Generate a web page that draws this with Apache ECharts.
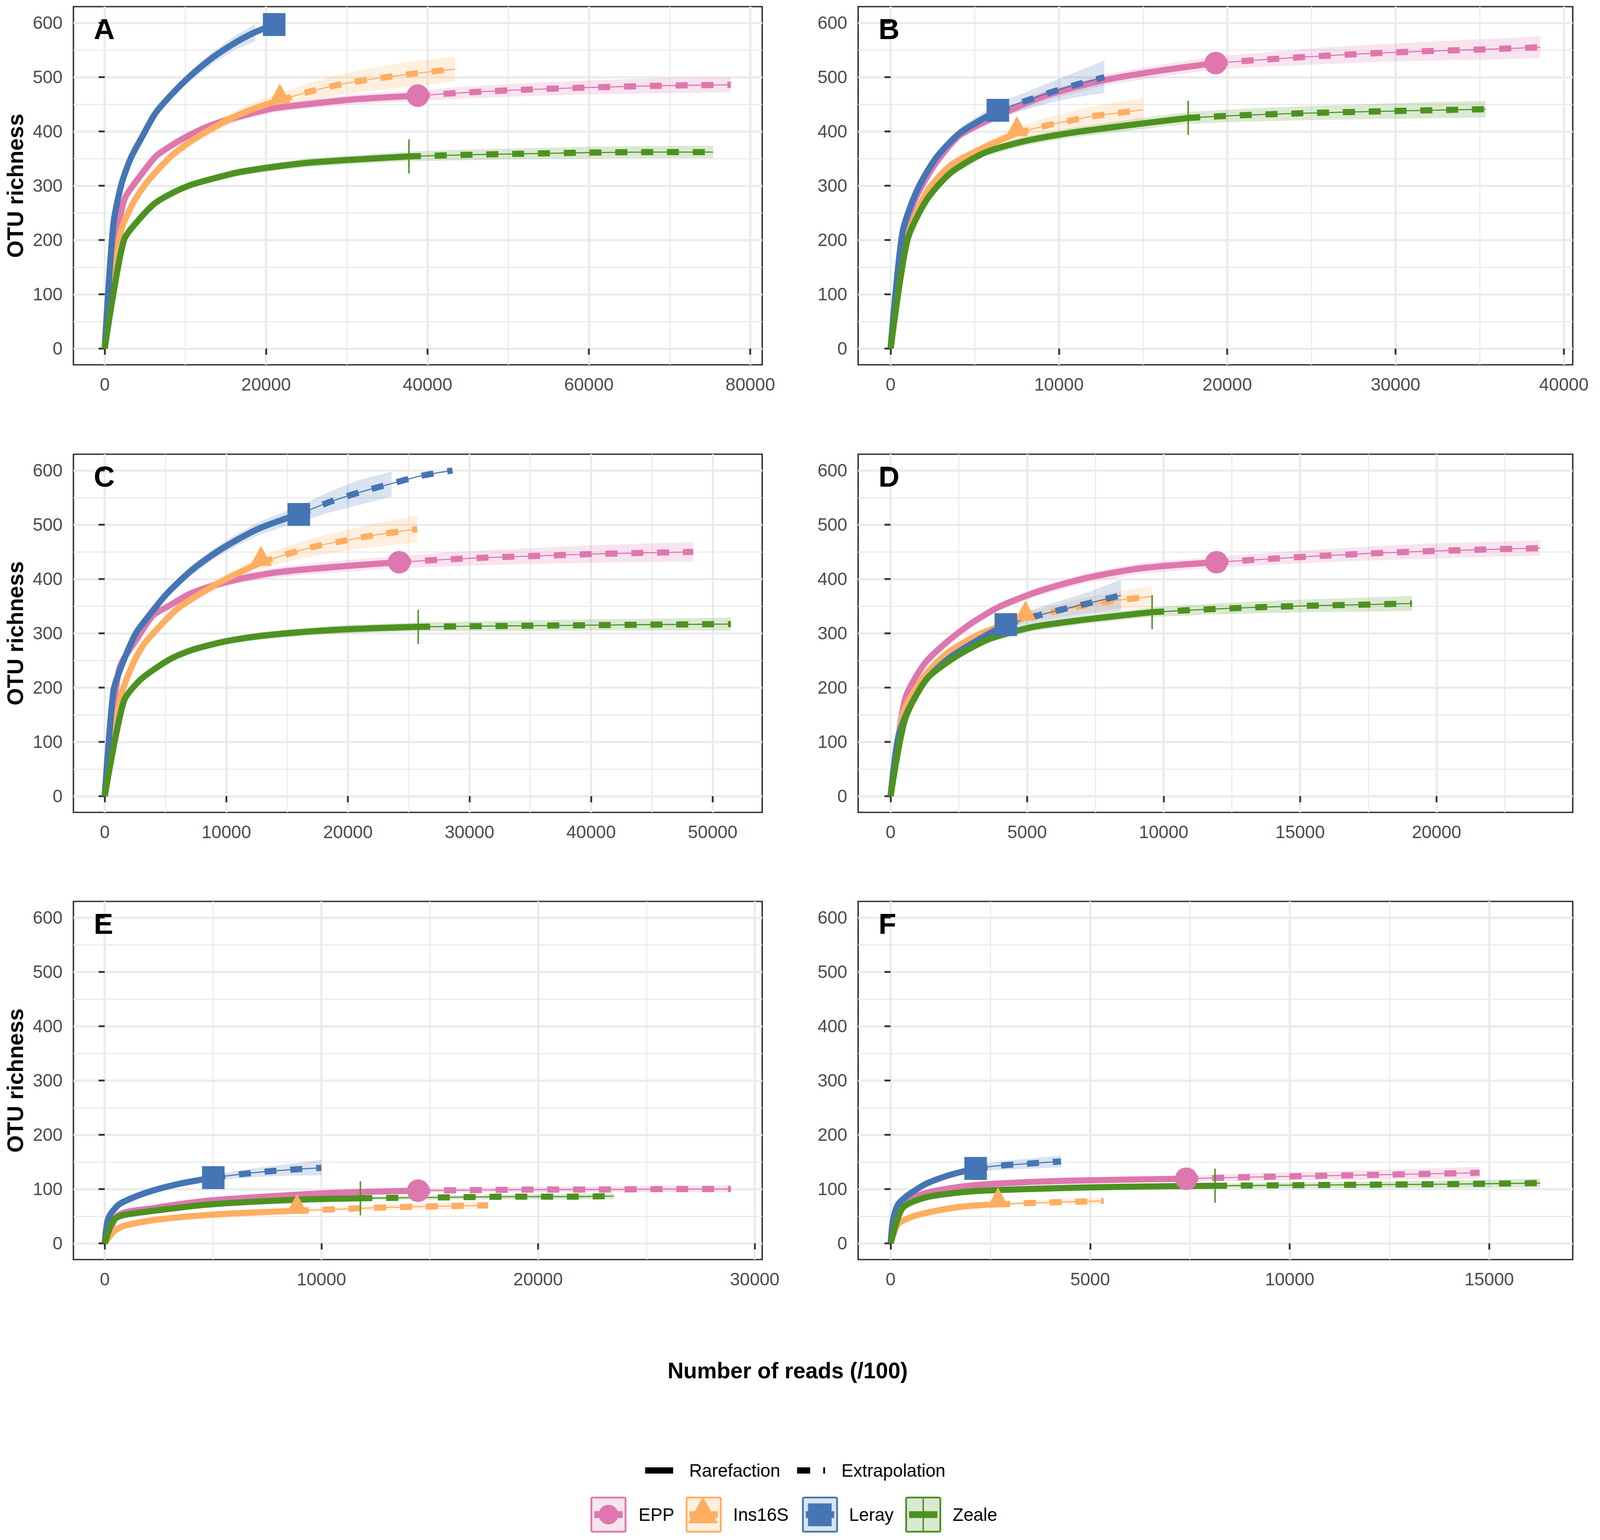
<!DOCTYPE html>
<html lang="en">
<head>
<meta charset="utf-8" />
<title>OTU richness rarefaction / extrapolation</title>
<script src="https://cdn.jsdelivr.net/npm/echarts@6.0.0/dist/echarts.min.js"></script>
<style>
  html, body { margin: 0; padding: 0; background: #ffffff; overflow: hidden; }
  #main { width: 100vw; height: 100vh; }
</style>
</head>
<body>
<div id="main"></div>
<script>
// methods and their colours
var methods = ["EPP", "Ins16S", "Leray", "Zeale"];
var colors = ["#DE77AE", "#FDAE61", "#4575B4", "#4D9221"];
var fills = ["rgba(222,119,174,0.2)", "rgba(253,174,97,0.2)", "rgba(69,117,180,0.2)", "rgba(77,146,33,0.2)"];

// tick labels
var yTicks = [0, 100, 200, 300, 400, 500, 600];
var yMinor = [50, 150, 250, 350, 450, 550];
var xTicks_A = [0, 20000, 40000, 60000, 80000];
var xMinor_A = [10000, 30000, 50000, 70000];
var xTicks_B = [0, 10000, 20000, 30000, 40000];
var xMinor_B = [5000, 15000, 25000, 35000];
var xTicks_C = [0, 10000, 20000, 30000, 40000, 50000];
var xMinor_C = [5000, 15000, 25000, 35000, 45000];
var xTicks_D = [0, 5000, 10000, 15000, 20000, 25000];
var xMinor_D = [2500, 7500, 12500, 17500, 22500];
var xTicks_E = [0, 10000, 20000, 30000];
var xMinor_E = [5000, 15000, 25000];
var xTicks_F = [0, 5000, 10000, 15000];
var xMinor_F = [2500, 7500, 12500];

// observed sample size (reads/100) per method: EPP, Ins16S, Leray, Zeale
var obs_A = [38800, 21700, 21000, 37700];
var obs_B = [19320, 7500, 6370, 17680];
var obs_C = [24220, 12850, 15960, 25780];
var obs_D = [11940, 4940, 4220, 9580];
var obs_E = [14470, 8870, 5010, 11800];
var obs_F = [7410, 2690, 2130, 8130];

// rows: [reads/100, richness, lower CI, upper CI]
var A_EPP = [[0,0,0,0],[1640,215,212,218],[2500,277,273,281],[4500,320,315,325],[6400,355,349,361],[8560,377,371,383],[10860,396,389,403],[13460,413,406,420],[16340,426,418,434],[20660,442,434,450],[25000,450,442,458],[30750,459,450,468],[38800,466,456,476],[45000,472,461,483],[52000,477,465,489],[60000,481,468,494],[68000,484,470,498],[77600,486,472,500]];
var A_Ins16S = [[0,0,0,0],[1930,212,209,215],[3370,264,259,269],[4810,298,292,304],[6250,324,317,331],[8270,355,347,363],[10580,381,372,390],[13460,407,397,417],[16340,429,418,440],[19220,446,434,458],[21700,457,444,470],[25000,472,456,488],[29000,486,467,505],[33000,496,475,517],[38000,506,483,529],[43400,515,492,538]];
var A_Leray = [[0,0,0,0],[1070,229,226,232],[2075,303,299,307],[3230,351,346,356],[4520,387,381,393],[6250,433,426,440],[8270,468,460,476],[10580,502,493,511],[13460,537,526,548],[16340,565,552,578],[18650,583,566,598],[21000,597,null,null]];
var A_Zeale = [[0,0,0,0],[2360,199,196,202],[4380,240,236,244],[6250,268,263,273],[8560,288,283,293],[10580,301,295,307],[12880,311,305,317],[16340,324,317,331],[20090,333,326,340],[25000,342,334,350],[30750,348,340,356],[37700,354,345,363],[45000,357,347,367],[52000,359,349,369],[60000,361,350,372],[68000,362,351,373],[75400,362,351,374]];

var B_EPP = [[0,0,0,0],[700,204,200,208],[1560,282,277,287],[2690,342,336,348],[4110,393,386,400],[6370,429,421,437],[9200,466,457,475],[12600,494,484,504],[16000,512,501,523],[19320,526,514,538],[22000,532,519,545],[25000,538,523,553],[28000,543,527,559],[31000,547,530,564],[35000,551,532,570],[38600,555,535,575]];
var B_Ins16S = [[0,0,0,0],[990,204,200,208],[2120,287,281,293],[3540,337,330,344],[5520,370,361,379],[7500,397,386,408],[9000,409,395,423],[10500,419,403,435],[12000,428,410,446],[13500,434,414,454],[15000,440,418,462]];
var B_Leray = [[0,0,0,0],[700,213,208,218],[1560,291,285,297],[2690,351,343,359],[4110,397,387,407],[6370,439,426,452],[8000,456,440,472],[9500,472,453,491],[11000,486,463,509],[12700,500,471,531]];
var B_Zeale = [[0,0,0,0],[990,199,195,203],[2120,273,268,278],[3540,323,317,329],[5520,360,353,367],[7790,381,373,389],[10620,397,388,406],[14020,411,401,421],[17680,425,414,436],[21000,430,418,442],[25000,434,421,447],[29000,437,423,451],[32000,439,424,454],[35350,441,426,456]];

var C_EPP = [[0,0,0,0],[1190,234,231,237],[2720,292,287,297],[3970,333,327,339],[5310,351,345,357],[7030,373,366,380],[8950,388,380,396],[10860,399,391,407],[13740,411,402,420],[16610,418,408,428],[20440,425,414,436],[24220,431,420,442],[28000,436,423,449],[32000,440,426,454],[36000,443,428,458],[40000,446,430,462],[44000,448,431,465],[48400,450,432,468]];
var C_Ins16S = [[0,0,0,0],[1280,180,177,183],[2240,240,235,245],[3200,279,273,285],[4730,318,311,325],[6070,347,339,355],[7990,375,366,384],[9900,399,389,409],[12010,422,411,433],[12850,430,418,442],[15000,446,432,460],[17500,461,444,478],[20000,472,453,491],[22500,482,460,504],[25700,492,467,517]];
var C_Leray = [[0,0,0,0],[710,193,190,196],[1280,234,230,238],[2530,299,294,304],[3580,331,325,337],[5110,373,366,380],[7030,414,405,423],[8950,446,436,456],[10860,472,461,483],[12780,494,482,506],[15080,513,499,527],[15960,519,504,534],[18500,542,523,561],[21000,560,537,583],[23600,576,552,598],[26000,590,null,null],[28600,600,null,null]];
var C_Zeale = [[0,0,0,0],[1570,175,172,178],[2910,214,210,218],[4350,238,233,243],[5690,256,251,261],[7410,271,265,277],[9900,285,279,291],[12780,295,288,302],[16610,303,296,310],[20440,308,300,316],[25780,312,304,320],[30000,313,304,322],[35000,314,304,324],[40000,315,305,326],[45000,316,305,327],[51500,317,305,329]];

var D_EPP = [[0,0,0,0],[525,178,175,181],[1225,243,239,247],[2013,282,277,287],[2890,316,310,322],[3940,348,341,355],[5340,376,368,384],[7090,401,392,410],[9190,420,410,430],[11940,431,421,441],[13500,436,425,447],[15500,442,430,454],[17500,447,434,460],[19500,451,437,465],[21500,454,440,468],[23800,457,443,471]];
var D_Ins16S = [[0,0,0,0],[440,150,147,153],[1140,215,210,220],[2010,261,255,267],[3240,298,291,305],[4940,329,320,338],[6000,340,328,352],[7000,350,336,364],[8200,360,344,376],[9580,368,348,388]];
var D_Leray = [[0,0,0,0],[260,104,101,107],[610,155,151,159],[1310,215,209,221],[2190,256,249,263],[3240,289,280,298],[4220,316,305,327],[5200,330,316,344],[6200,343,326,360],[7300,356,335,377],[8440,370,341,399]];
var D_Zeale = [[0,0,0,0],[525,141,138,144],[1310,215,211,219],[2360,256,251,261],[3590,289,283,295],[5160,311,304,318],[7090,325,317,333],[9580,339,330,348],[11500,344,334,354],[13500,348,337,359],[15500,351,339,363],[17500,353,340,366],[19100,355,341,369]];

var E_EPP = [[0,0,0,0],[640,52,50,54],[2290,65,63,67],[4660,78,76,80],[7020,85,83,87],[10570,93,90,96],[14470,97,94,100],[17000,98,94,102],[20000,99,94,104],[23000,99,94,105],[26000,100,94,106],[28900,100,94,107]];
var E_Ins16S = [[0,0,0,0],[400,21,20,22],[870,32,30,34],[2290,43,41,45],[4660,52,50,54],[7020,57,55,59],[8870,60,57,63],[10800,63,59,67],[12900,66,61,71],[15000,68,62,74],[17700,70,63,77]];
var E_Leray = [[0,0,0,0],[165,46,44,48],[640,71,68,74],[1350,85,82,88],[2290,98,94,102],[3480,110,106,114],[5010,121,116,126],[6200,127,120,134],[7400,132,123,141],[8700,136,125,147],[10000,139,125,154]];
var E_Zeale = [[0,0,0,0],[400,43,41,45],[870,52,50,54],[2290,60,58,62],[4660,71,69,73],[7020,77,75,79],[9380,81,79,83],[11800,83,80,86],[14000,84,80,88],[16500,85,81,89],[19000,86,81,90],[21500,86,81,91],[23500,87,81,92]];

var F_EPP = [[0,0,0,0],[300,71,69,73],[900,93,90,96],[2090,107,104,110],[3880,114,110,118],[5680,117,113,121],[7410,119,114,124],[9000,122,115,129],[10500,124,116,132],[12000,126,117,135],[13500,128,118,138],[14760,130,119,141]];
var F_Ins16S = [[0,0,0,0],[180,35,33,37],[540,49,47,51],[1140,60,58,62],[1850,68,66,70],[2690,72,69,75],[3400,74,70,78],[4300,76,71,81],[5340,78,72,84]];
var F_Leray = [[0,0,0,0],[60,43,41,45],[180,71,68,74],[420,88,85,91],[900,110,106,114],[1490,126,121,131],[2130,138,132,144],[2700,143,135,151],[3300,146,137,155],[4270,151,140,162]];
var F_Zeale = [[0,0,0,0],[300,65,63,67],[900,85,82,88],[2090,96,93,99],[3880,101,98,104],[5680,104,100,108],[8130,106,102,110],[10000,107,102,112],[12000,108,102,114],[14000,109,102,116],[16280,111,103,119]];

var panels = [
  { label: "A", obs: obs_A, curves: [A_EPP, A_Ins16S, A_Leray, A_Zeale], ticks: xTicks_A, minor: xMinor_A },
  { label: "B", obs: obs_B, curves: [B_EPP, B_Ins16S, B_Leray, B_Zeale], ticks: xTicks_B, minor: xMinor_B },
  { label: "C", obs: obs_C, curves: [C_EPP, C_Ins16S, C_Leray, C_Zeale], ticks: xTicks_C, minor: xMinor_C },
  { label: "D", obs: obs_D, curves: [D_EPP, D_Ins16S, D_Leray, D_Zeale], ticks: xTicks_D, minor: xMinor_D },
  { label: "E", obs: obs_E, curves: [E_EPP, E_Ins16S, E_Leray, E_Zeale], ticks: xTicks_E, minor: xMinor_E },
  { label: "F", obs: obs_F, curves: [F_EPP, F_Ins16S, F_Leray, F_Zeale], ticks: xTicks_F, minor: xMinor_F }
];

// layout is drawn for a 4402 x 3943 page and scaled to the actual viewport
var dom = document.getElementById("main");
var W = document.documentElement.clientWidth || 4402;
var H = document.documentElement.clientHeight || 3943;
var sx = W / 4402, sy = H / 3943, s = Math.min(sx, sy);
function X(v) { return v * sx; }
function Y(v) { return v * sy; }
function S(v) { return v * s; }

var FONT = "Liberation Sans";
var colLeft = [202, 2361], colWidth = [1895, 1966];
var rowTop = [17, 1163, 2308], rowHeight = 917;
var yRange = [-30, 630];

var grids = [], xAxes = [], yAxes = [], titles = [], series = [];
var symbols = ["circle", "triangle", "rect", "rect"];
var symbolSizes = [[62, 62], [60, 55], [62, 63], [4, 94]];
var symbolOffsets = [[0, 0], [0, -19], [0, 0], [0, 0]];

function fmt(v) { return String(v); }

panels.forEach(function (p, k) {
  var col = k % 2, row = Math.floor(k / 2);
  grids.push({
    left: X(colLeft[col]), top: Y(rowTop[row]), width: X(colWidth[col]), height: Y(rowHeight),
    show: true, borderColor: "#333333", borderWidth: S(4), backgroundColor: "#ffffff"
  });

  var xmax = 0;
  p.curves.forEach(function (c) { c.forEach(function (r) { xmax = Math.max(xmax, r[0]); }); });
  var xmin = -0.05 * xmax, xmx = 1.05 * xmax;

  xAxes.push({
    type: "value", gridIndex: k, min: xmin, max: xmx,
    axisLine: { show: false },
    axisTick: { show: true, length: S(17), customValues: p.ticks, lineStyle: { color: "#333333", width: S(5) } },
    axisLabel: { customValues: p.ticks, formatter: fmt, fontSize: S(49), color: "#4D4D4D", margin: S(30), fontFamily: FONT },
    splitLine: { show: true, lineStyle: { color: "#EBEBEB", width: S(6) } }
  });
  xAxes.push({
    type: "value", gridIndex: k, min: xmin, max: xmx, position: "bottom",
    axisLine: { show: false },
    axisTick: { show: false, customValues: p.minor },
    axisLabel: { show: false, customValues: p.minor },
    splitLine: { show: true, lineStyle: { color: "#EBEBEB", width: S(3) } }
  });
  yAxes.push({
    type: "value", gridIndex: k, min: yRange[0], max: yRange[1],
    axisLine: { show: false },
    axisTick: { show: true, length: S(17), customValues: yTicks, lineStyle: { color: "#333333", width: S(5) } },
    axisLabel: { customValues: yTicks, formatter: fmt, fontSize: S(49), color: "#4D4D4D", margin: S(30), fontFamily: FONT },
    splitLine: { show: true, lineStyle: { color: "#EBEBEB", width: S(6) } }
  });
  yAxes.push({
    type: "value", gridIndex: k, min: yRange[0], max: yRange[1], position: "left",
    axisLine: { show: false },
    axisTick: { show: false, customValues: yMinor },
    axisLabel: { show: false, customValues: yMinor },
    splitLine: { show: true, lineStyle: { color: "#EBEBEB", width: S(3) } }
  });

  titles.push({
    text: p.label, left: X(colLeft[col] + 56), top: Y(rowTop[row] + 20), padding: 0,
    textStyle: { fontSize: S(80), fontWeight: "bold", color: "#000000", fontFamily: FONT }
  });

  var xi = 2 * k, yi = 2 * k;

  // confidence bands
  p.curves.forEach(function (rows, m) {
    var pts = rows.filter(function (r) { return r[2] != null; });
    series.push({
      type: "custom", xAxisIndex: xi, yAxisIndex: yi, silent: true, z: 1,
      data: pts.map(function (r) { return [r[0], r[2], r[3]]; }),
      encode: { x: 0, y: [1, 2] },
      renderItem: function (params, api) {
        if (params.dataIndex !== 0) return null;
        var up = pts.map(function (r) { return api.coord([r[0], r[3]]); });
        var lo = pts.map(function (r) { return api.coord([r[0], r[2]]); }).reverse();
        return { type: "polygon", shape: { points: up.concat(lo) }, style: { fill: fills[m] } };
      }
    });
  });

  // rarefaction and extrapolation lines
  p.curves.forEach(function (rows, m) {
    var obsX = p.obs[m];
    var rare = rows.filter(function (r) { return r[0] <= obsX; }).map(function (r) { return [r[0], r[1]]; });
    var extra = rows.filter(function (r) { return r[0] >= obsX; }).map(function (r) { return [r[0], r[1]]; });
    series.push({
      type: "line", xAxisIndex: xi, yAxisIndex: yi, data: rare, showSymbol: false, symbol: "none",
      smooth: 0.25, silent: true, z: 3,
      lineStyle: { color: colors[m], width: S(17), join: "round", cap: "butt" }
    });
    if (extra.length > 1) {
      series.push({
        type: "line", xAxisIndex: xi, yAxisIndex: yi, data: extra, showSymbol: false, symbol: "none",
        smooth: 0.3, silent: true, z: 3,
        lineStyle: { color: colors[m], width: S(3) }
      });
      series.push({
        type: "line", xAxisIndex: xi, yAxisIndex: yi, data: extra, showSymbol: false, symbol: "none",
        smooth: 0.3, silent: true, z: 3,
        lineStyle: { color: colors[m], width: S(17), type: [S(33), S(38)], cap: "butt" }
      });
    }
  });

  // observed points
  p.curves.forEach(function (rows, m) {
    var obsX = p.obs[m];
    var hit = rows.filter(function (r) { return r[0] === obsX; })[0];
    series.push({
      type: "scatter", xAxisIndex: xi, yAxisIndex: yi, data: [[hit[0], hit[1]]], silent: true, z: 5,
      symbol: symbols[m],
      symbolSize: [S(symbolSizes[m][0]), S(symbolSizes[m][1])],
      symbolOffset: [S(symbolOffsets[m][0]), S(symbolOffsets[m][1])],
      itemStyle: { color: colors[m], opacity: 1 }
    });
  });
});

// axis titles and legend
var graphics = [];
rowTop.forEach(function (t) {
  graphics.push({
    type: "text", x: X(42), y: Y(t + rowHeight / 2), rotation: Math.PI / 2,
    style: { text: "OTU richness", font: "bold " + S(61) + "px " + FONT, fill: "#000000", align: "center", verticalAlign: "middle" }
  });
});
graphics.push({
  type: "text", x: X(2167), y: Y(3509),
  style: { text: "Number of reads (/100)", font: "bold " + S(61) + "px " + FONT, fill: "#000000", align: "center", verticalAlign: "middle" }
});
var l1 = Y(3765);
graphics.push({ type: "line", shape: { x1: X(1775), y1: l1, x2: X(1775) + S(77), y2: l1 }, style: { stroke: "#000000", lineWidth: S(17) } });
graphics.push({ type: "text", x: X(1896), y: l1, style: { text: "Rarefaction", font: S(49) + "px " + FONT, fill: "#000000", align: "left", verticalAlign: "middle" } });
graphics.push({ type: "line", shape: { x1: X(2193), y1: l1, x2: X(2193) + S(77), y2: l1 }, style: { stroke: "#000000", lineWidth: S(17), lineDash: [S(36), S(36)] } });
graphics.push({ type: "text", x: X(2315), y: l1, style: { text: "Extrapolation", font: S(49) + "px " + FONT, fill: "#000000", align: "left", verticalAlign: "middle" } });

var boxX = [1627, 1889, 2209, 2493];
var labelX = [1757, 2017, 2336, 2621];
var ly = Y(3878);
methods.forEach(function (name, m) {
  var cx = X(boxX[m] + 47);
  graphics.push({ type: "rect", shape: { x: cx - S(47), y: ly - S(47), width: S(94), height: S(94), r: S(3) }, style: { fill: fills[m], stroke: colors[m], lineWidth: S(5) } });
  if (m === 3) {
    graphics.push({ type: "rect", shape: { x: cx - S(2), y: ly - S(47), width: S(4), height: S(94) }, style: { fill: colors[m] } });
  }
  graphics.push({ type: "rect", shape: { x: cx - S(39), y: ly - S(9.5), width: S(78), height: S(19) }, style: { fill: colors[m] } });
  if (m === 0) {
    graphics.push({ type: "circle", shape: { cx: cx, cy: ly, r: S(27) }, style: { fill: colors[m] } });
  } else if (m === 1) {
    graphics.push({ type: "polygon", shape: { points: [[cx - S(2), ly - S(49)], [cx - S(43), ly + S(24)], [cx + S(39), ly + S(24)]] }, style: { fill: colors[m] } });
  } else if (m === 2) {
    graphics.push({ type: "rect", shape: { x: cx - S(33), y: ly - S(31), width: S(65), height: S(63) }, style: { fill: colors[m] } });
  }
  graphics.push({ type: "text", x: X(labelX[m]), y: ly, style: { text: name, font: S(49) + "px " + FONT, fill: "#000000", align: "left", verticalAlign: "middle" } });
});

var chart = echarts.init(dom, null, { renderer: "svg", width: W, height: H });
chart.setOption({
  animation: false,
  backgroundColor: "#ffffff",
  title: titles,
  grid: grids,
  xAxis: xAxes,
  yAxis: yAxes,
  series: series,
  graphic: graphics
});
</script>
</body>
</html>
